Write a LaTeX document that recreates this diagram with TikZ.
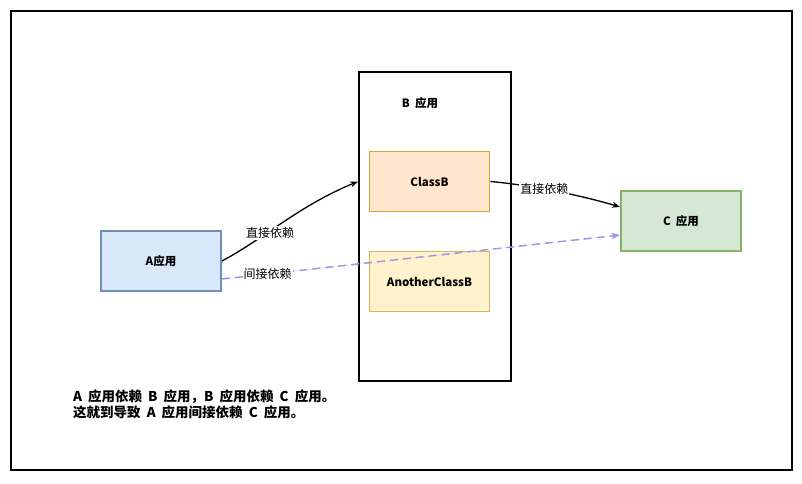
\documentclass[tikz,border=0pt]{standalone}
\usepackage{fontspec}
\setmainfont{Noto Sans CJK SC}
\usepackage{tikz}
\usetikzlibrary{arrows.meta}

\definecolor{bluefill}{HTML}{DAE8FC}
\definecolor{blueline}{HTML}{6C8EBF}
\definecolor{orangefill}{HTML}{FFE6CC}
\definecolor{orangeline}{HTML}{D6A53A}
\definecolor{yellowfill}{HTML}{FFF2CC}
\definecolor{yellowline}{HTML}{D6B656}
\definecolor{greenfill}{HTML}{D5E8D4}
\definecolor{greenline}{HTML}{82B366}
\definecolor{dashline}{RGB}{160,150,230}

\newcommand{\gap}{\hspace{0.45em}}

\begin{document}
\begin{tikzpicture}[x=1pt,y=-1pt,
        font=\fontsize{12}{14}\selectfont,
        box/.style={draw, line width=1.8pt, inner sep=0pt,
                        minimum width=120pt, minimum height=60pt,
                        font=\fontsize{11.5}{13}\selectfont\bfseries},
        dep/.style={-{Stealth[length=8pt,width=6pt]}, line width=1.3pt},
        lbl/.style={fill=white, inner sep=1pt}]
    \useasboundingbox (0,0) rectangle (802,483);
    % frame
    \draw[line width=2pt] (11,11) rectangle (792,470);

    % B application and its classes
    \node[draw, line width=1.8pt, minimum width=152pt, minimum height=309pt]
        (B) at (435,226.5) {};
    \node[font=\fontsize{11.5}{13}\selectfont\bfseries] (Btitle) at (420,103) {B\gap 应用};
    \node[box, fill=orangefill, draw=orangeline] (classB) at (429.5,181.5) {ClassB};
    \node[box, fill=yellowfill, draw=yellowline] (anotherB) at (429.5,281.5) {AnotherClassB};

    \node[box, fill=bluefill, draw=blueline] (A) at (161,261) {A应用};
    \node[box, fill=greenfill, draw=greenline] (C) at (681,221) {C\gap 应用};

    % dependencies
    \draw[dep] (A.east) .. controls (262,240) and (300,205) .. (B.west |- classB.west);
    \node[lbl] (lblAB) at (270,233) {直接依赖};
    \draw[dep] (classB.east) .. controls (530,185) and (580,195)
        .. ([yshift=14pt]C.west)
        node[lbl, pos=0.42] (lblBC) {直接依赖};
    \draw[dep, draw=dashline, dashed, dash pattern=on 8pt off 5pt, line width=1.5pt,
          -{Stealth[length=9pt,width=7pt]}, fill=dashline]
        ([yshift=-18pt]A.east) -- ([yshift=-14pt]C.west)
        node[lbl, pos=0.115, text=black] (lblAC) {间接依赖};

    % note
    \node[anchor=north west, align=left, inner sep=0pt,
          font=\fontsize{13.5}{16}\selectfont\bfseries] (note) at (73,390)
        {A\gap 应用依赖\gap B\gap 应用，B\gap 应用依赖\gap C\gap 应用。\\
         这就到导致\gap A\gap 应用间接依赖\gap C\gap 应用。};
\end{tikzpicture}
\end{document}
